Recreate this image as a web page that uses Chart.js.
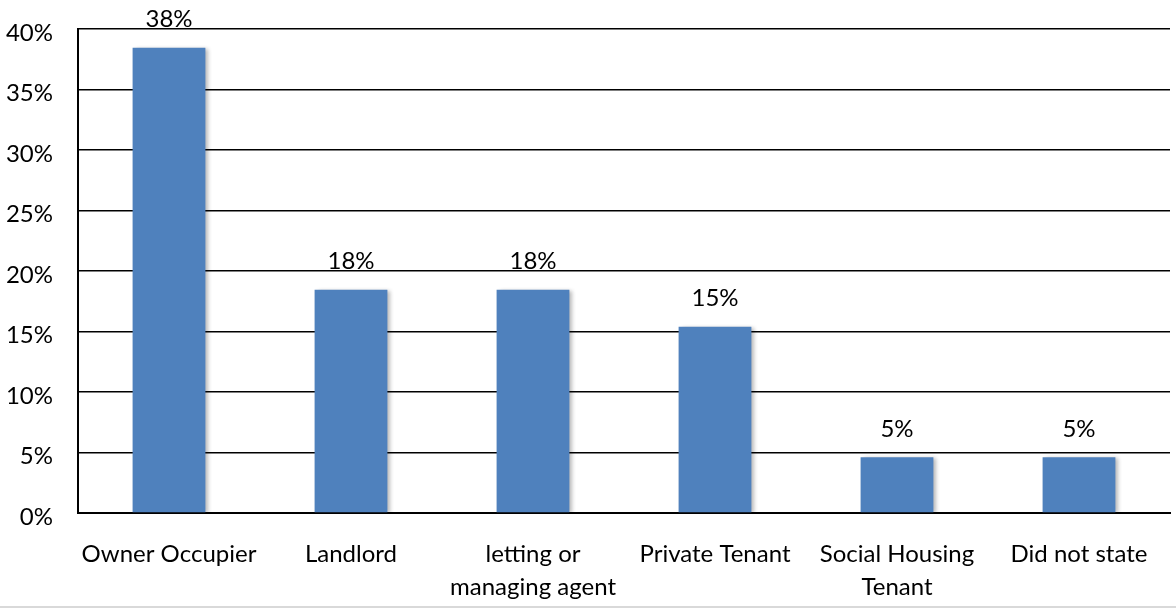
<!DOCTYPE html>
<html>
<head>
<meta charset="utf-8">
<script src="https://cdn.jsdelivr.net/npm/chart.js@4"></script>
<style>
  html, body { margin: 0; padding: 0; background: #fff; }
  #wrap { width: 1176px; height: 608px; }
</style>
</head>
<body>
<div id="wrap"><canvas id="myChart01" width="1176" height="608"></canvas></div>
<script>
var categories = ["Owner Occupier", "Landlord", ["letting or", "managing agent"], "Private Tenant", ["Social Housing", "Tenant"], "Did not state"];
var shares = [38.45, 18.45, 18.45, 15.4, 4.6, 4.6];
var yTicks = [0, 5, 10, 15, 20, 25, 30, 35, 40];

var fontFamily = "Lato, 'Open Sans', sans-serif";

var barShadow = {
    id: 'barShadow',
    beforeDatasetDraw: function (chart) {
        var ctx = chart.ctx;
        ctx.save();
        ctx.shadowColor = "rgba(0,0,0,0.28)";
        ctx.shadowBlur = 4;
        ctx.shadowOffsetX = 3;
        ctx.shadowOffsetY = 1;
    },
    afterDatasetDraw: function (chart) {
        chart.ctx.restore();
    }
};

var valueLabels = {
    id: 'valueLabels',
    afterDatasetsDraw: function (chart) {
        var ctx = chart.ctx;
        var meta = chart.getDatasetMeta(0);
        ctx.save();
        ctx.font = "24px " + fontFamily;
        ctx.fillStyle = "#000";
        ctx.textAlign = "center";
        ctx.textBaseline = "bottom";
        meta.data.forEach(function (bar, i) {
            ctx.fillText(Math.round(shares[i]) + "%", bar.x, bar.y - 16);
        });
        ctx.restore();
    }
};

// thin grey frame edge along the bottom of the picture
var bottomEdge = {
    id: 'bottomEdge',
    afterDraw: function (chart) {
        var ctx = chart.ctx;
        ctx.save();
        ctx.fillStyle = "#d9d9d9";
        ctx.fillRect(0, chart.height - 2, chart.width, 2);
        ctx.restore();
    }
};

var chartPlaceholder01 = document.getElementById("myChart01");
var newChart01 = new Chart(chartPlaceholder01, {
    type: 'bar',
    data: {
        labels: categories,
        datasets: [{
            data: shares,
            backgroundColor: "#4F81BD",
            borderWidth: 0,
            categoryPercentage: 1,
            barPercentage: 0.4
        }]
    },
    options: {
        responsive: false,
        animation: false,
        layout: { padding: { top: 29, right: 6, left: 0, bottom: 0 } },
        plugins: {
            legend: { display: false },
            tooltip: { enabled: false }
        },
        scales: {
            x: {
                grid: { display: false, drawTicks: false },
                border: { color: "#000", width: 2 },
                ticks: {
                    color: "#000",
                    padding: 25,
                    maxRotation: 0,
                    autoSkip: false,
                    font: { family: fontFamily, size: 24, lineHeight: 1.38 }
                },
                afterFit: function (scale) {
                    scale.height = 95;
                    scale.paddingLeft = 0;
                    scale.paddingRight = 0;
                }
            },
            y: {
                min: 0,
                max: 40,
                afterBuildTicks: function (scale) {
                    scale.ticks = yTicks.map(function (v) { return { value: v }; });
                },
                grid: { color: "#000", lineWidth: 1.5, drawTicks: false },
                border: { color: "#000", width: 2 },
                ticks: {
                    color: "#000",
                    padding: 25,
                    labelOffset: 4,
                    font: { family: fontFamily, size: 24 },
                    callback: function (v) { return v + "%"; }
                },
                afterFit: function (scale) {
                    scale.width = 78;
                    scale.paddingTop = 0;
                    scale.paddingBottom = 0;
                }
            }
        }
    },
    plugins: [barShadow, valueLabels, bottomEdge]
});
</script>
</body>
</html>
